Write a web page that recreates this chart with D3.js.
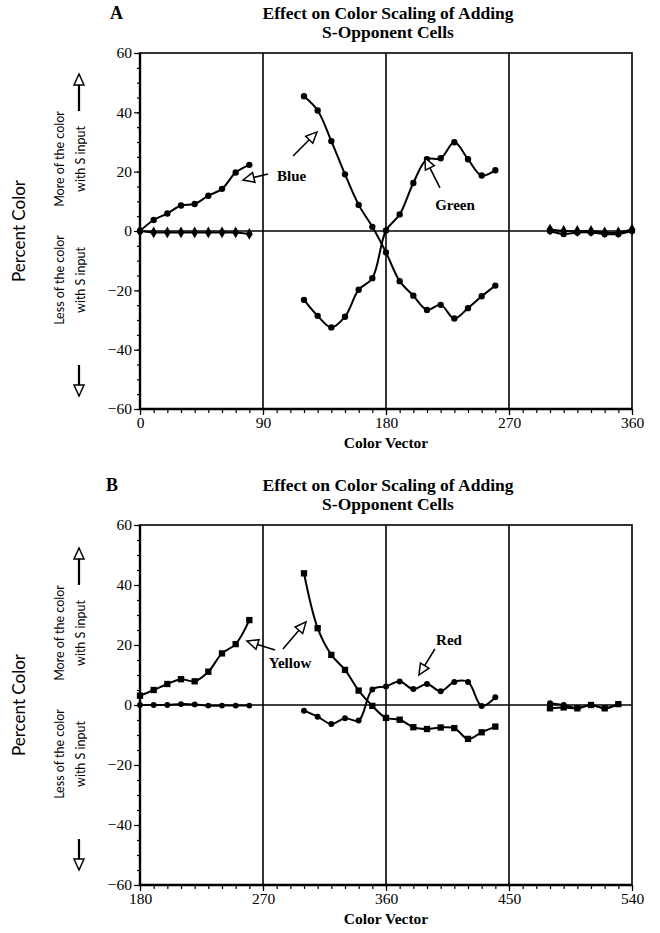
<!DOCTYPE html>
<html>
<head>
<meta charset="utf-8">
<script src="https://cdn.jsdelivr.net/npm/d3@7"></script>
<style>
  body { margin: 0; background: #fff; }
  .tick text { font-family: "Liberation Serif", "Times New Roman", serif; font-size: 15.5px; fill: #000; }
  .tick line { stroke: #000; stroke-width: 1.2; }
</style>
</head>
<body>
<svg id="chart" width="660" height="933"></svg>
<script>

// ---- panel A : Blue / Green ----
var xA_left  = [0, 10, 20, 30, 40, 50, 60, 70, 80];
var blueA_left  = [0, 3.7, 5.9, 8.6, 9.1, 11.9, 14.2, 19.7, 22.3];
var greenA_left = [0, -0.5, -0.5, -0.5, -0.5, -0.5, -0.5, -0.5, -1];

var xA_mid = [120, 130, 140, 150, 160, 170, 180, 190, 200, 210, 220, 230, 240, 250, 260];
var blueA_mid  = [45.4, 40.6, 30.3, 19.1, 8.8, 1.4, -7.2, -16.9, -21.8, -26.6, -24.9, -29.5, -26, -22, -18.4];
var greenA_mid = [-23.2, -28.6, -32.5, -28.9, -19.8, -15.9, 0.2, 5.6, 16.2, 24.2, 24.5, 29.9, 24.2, 18.7, 20.5];

var xA_right = [300, 310, 320, 330, 340, 350, 360];
var blueA_right  = [0.5, 0, 0, 0, -0.5, -0.5, 0.5];
var greenA_right = [0, -1, -0.5, -0.5, -1, -1, 0];

// ---- panel B : Yellow / Red ----
var xB_left = [180, 190, 200, 210, 220, 230, 240, 250, 260];
var yellowB_left = [3.1, 5, 7, 8.6, 7.9, 11.1, 17.2, 20.3, 28.3];
var redB_left    = [0, 0, 0, 0.3, 0.2, -0.2, -0.2, -0.2, -0.2];

var xB_mid = [300, 310, 320, 330, 340, 350, 360, 370, 380, 390, 400, 410, 420, 430, 440];
var yellowB_mid = [43.9, 25.6, 16.7, 11.7, 4.8, -0.3, -4.3, -4.9, -7.4, -8.0, -7.5, -7.7, -11.3, -9.1, -7.2];
var redB_mid    = [-1.9, -3.9, -6.3, -4.4, -5.2, 5.2, 6.2, 7.8, 5.3, 7.0, 4.6, 7.7, 7.7, -0.3, 2.6];

var xB_right = [480, 490, 500, 510, 520, 530];
var yellowB_right = [-1.1, -0.8, -1.1, 0, -1.1, 0.3];
var redB_right    = [0.6, 0, -1.1, 0, -1.1, 0.3];

var yTicks = [-60, -40, -20, 0, 20, 40, 60];
var xTicksA = [0, 90, 180, 270, 360];
var xTicksB = [180, 270, 360, 450, 540];

var titleLines = ["Effect on Color Scaling of Adding", "S-Opponent Cells"];

// labels + arrows, in data units of each panel
var notesA = [
  {text: "Blue",  x: 111, y: 18.5},
  {text: "Green", x: 230.5, y: 8.8}
];
var arrowsA = [
  {x1: 93.7, y1: 19.2, x2: 75.4, y2: 17.2},
  {x1: 112, y1: 25.3, x2: 129.5, y2: 33.4},
  {x1: 219.5, y1: 14.5, x2: 208.5, y2: 24.6}
];
var notesB = [
  {text: "Yellow", x: 289.8, y: 14},
  {text: "Red",    x: 406.1, y: 21.7}
];
var arrowsB = [
  {x1: 278.8, y1: 18.3, x2: 258.3, y2: 21.3},
  {x1: 284.6, y1: 18.7, x2: 301.5, y2: 27.7},
  {x1: 395.8, y1: 18.7, x2: 384.1, y2: 10}
];

var svg = d3.select("#chart");
var serif = "'Liberation Serif', 'Times New Roman', serif";
var sans = "Lato, 'Open Sans', sans-serif";

function zip(xs, ys){
  var out = [];
  for (var i = 0 ; i < xs.length ; i++){
    out.push({x: xs[i], y: ys[i]});
  }
  return out;
}

function drawArrow(g, x, y, a, w){
  var sx = x(a.x1), sy = y(a.y1), tx = x(a.x2), ty = y(a.y2);
  var ang = Math.atan2(ty - sy, tx - sx);
  var hl = 11, hw = 5;
  var bx = tx - hl * Math.cos(ang), by = ty - hl * Math.sin(ang);
  g.append("line")
    .attr("x1", sx).attr("y1", sy).attr("x2", bx).attr("y2", by)
    .attr("stroke", "#000").attr("stroke-width", w || 1.6);
  var px = -Math.sin(ang) * hw, py = Math.cos(ang) * hw;
  g.append("path")
    .attr("d", "M" + tx + "," + ty + "L" + (bx + px) + "," + (by + py) + "L" + (bx - px) + "," + (by - py) + "Z")
    .attr("fill", "#fff").attr("stroke", "#000").attr("stroke-width", 1.5);
}

function drawPanel(p){
  var g = svg.append("g");
  var left = 140, right = 632;

  var x = d3.scaleLinear().domain(p.xDomain).range([left, right]);
  var y = d3.scaleLinear().domain([-60, 60]).range([p.bottom, p.top]);

  // titles
  g.append("text").attr("x", p.letterX).attr("y", p.top - 34)
    .style("font-family", serif).style("font-weight", "bold").style("font-size", "18px")
    .text(p.letter);
  titleLines.forEach(function(t, i){
    g.append("text").attr("x", 388).attr("y", p.top - 34 + i * 19)
      .attr("text-anchor", "middle")
      .style("font-family", serif).style("font-weight", "bold").style("font-size", "17.5px")
      .text(t);
  });

  // minor y ticks
  g.append("g").attr("transform", "translate(" + left + ",0)")
    .call(d3.axisLeft(y).tickValues(d3.range(-60, 61, 5)).tickSize(3).tickFormat(""))
    .select(".domain").remove();
  // major y ticks
  g.append("g").attr("transform", "translate(" + left + ",0)")
    .call(d3.axisLeft(y).tickValues(yTicks).tickSize(6).tickPadding(2))
    .select(".domain").remove();

  // minor x ticks
  g.append("g").attr("transform", "translate(0," + p.bottom + ")")
    .call(d3.axisBottom(x).tickValues(d3.range(p.xDomain[0], p.xDomain[1] + 1, 10)).tickSize(4).tickFormat(""))
    .select(".domain").remove();
  // major x ticks
  g.append("g").attr("transform", "translate(0," + p.bottom + ")")
    .call(d3.axisBottom(x).tickValues(p.xTicks).tickSize(6).tickPadding(2))
    .select(".domain").remove();

  // grid lines at the major x ticks
  g.selectAll(".vgrid").data(p.xTicks.slice(1, -1)).enter().append("line")
    .attr("x1", function(d){ return x(d); }).attr("x2", function(d){ return x(d); })
    .attr("y1", p.top).attr("y2", p.bottom)
    .attr("stroke", "#000").attr("stroke-width", 1.6);
  g.append("line")
    .attr("x1", left).attr("x2", right).attr("y1", y(0)).attr("y2", y(0))
    .attr("stroke", "#000").attr("stroke-width", 1.4);

  // frame
  g.append("rect").attr("x", left).attr("y", p.top)
    .attr("width", right - left).attr("height", p.bottom - p.top)
    .attr("fill", "none").attr("stroke", "#000").attr("stroke-width", 1.6);
  g.append("line").attr("x1", left).attr("x2", left).attr("y1", p.top).attr("y2", p.bottom)
    .attr("stroke", "#000").attr("stroke-width", 2.4);
  g.append("line").attr("x1", left).attr("x2", right).attr("y1", p.bottom).attr("y2", p.bottom)
    .attr("stroke", "#000").attr("stroke-width", 2.4);

  // axis titles
  g.append("text").attr("x", (left + right) / 2).attr("y", p.bottom + 39)
    .attr("text-anchor", "middle")
    .style("font-family", serif).style("font-weight", "bold").style("font-size", "15.5px")
    .text("Color Vector");

  var yMid = y(0);
  g.append("text").attr("transform", "translate(25," + yMid + ") rotate(-90)")
    .attr("text-anchor", "middle")
    .style("font-family", sans).style("font-size", "17px")
    .text("Percent Color");

  var more = [["More of the color", 64], ["with S input", 85]];
  more.forEach(function(t){
    g.append("text").attr("transform", "translate(" + t[1] + "," + (yMid - 72) + ") rotate(-90)")
      .attr("text-anchor", "middle")
      .style("font-family", sans).style("font-size", "12.5px")
      .text(t[0]);
  });
  var less = [["Less of the color", 64], ["with S input", 85]];
  less.forEach(function(t){
    g.append("text").attr("transform", "translate(" + t[1] + "," + (yMid + 49) + ") rotate(-90)")
      .attr("text-anchor", "middle")
      .style("font-family", sans).style("font-size", "12.5px")
      .text(t[0]);
  });
  var ax = d3.scaleLinear().domain([0, 1]).range([79, 79]);
  drawArrow(g, ax, y, {x1: 0, y1: y.invert(yMid - 120), x2: 0, y2: y.invert(yMid - 157)}, 2.2);
  drawArrow(g, ax, y, {x1: 0, y1: y.invert(yMid + 134), x2: 0, y2: y.invert(yMid + 165)}, 2.2);

  // series
  var line = d3.line()
    .x(function(d){ return x(d.x); })
    .y(function(d){ return y(d.y); })
    .curve(d3.curveCatmullRom.alpha(0.5));

  p.series.forEach(function(s){
    var data = zip(s.x, s.y);
    g.append("path").datum(data)
      .attr("fill", "none").attr("stroke", "#000").attr("stroke-width", 2)
      .attr("stroke-linejoin", "round")
      .attr("d", line);
    var sym = d3.symbol().type(s.marker).size(s.size);
    g.selectAll(null).data(data).enter().append("path")
      .attr("transform", function(d){ return "translate(" + x(d.x) + "," + y(d.y) + ")"; })
      .attr("d", sym)
      .attr("fill", "#000");
  });

  // notes
  p.notes.forEach(function(n){
    g.append("text").attr("x", x(n.x)).attr("y", y(n.y))
      .attr("text-anchor", "middle").attr("dy", "0.35em")
      .style("font-family", serif).style("font-weight", "bold").style("font-size", "15px")
      .text(n.text);
  });
  p.arrows.forEach(function(a){ drawArrow(g, x, y, a); });
}

drawPanel({
  letter: "A", letterX: 110,
  top: 53, bottom: 409,
  xDomain: [0, 360], xTicks: xTicksA,
  series: [
    {x: xA_left,  y: greenA_left,  marker: d3.symbolDiamond, size: 40},
    {x: xA_left,  y: blueA_left,   marker: d3.symbolCircle,  size: 32},
    {x: xA_mid,   y: blueA_mid,    marker: d3.symbolCircle,  size: 32},
    {x: xA_mid,   y: greenA_mid,   marker: d3.symbolCircle,  size: 32},
    {x: xA_right, y: blueA_right,  marker: d3.symbolDiamond, size: 40},
    {x: xA_right, y: greenA_right, marker: d3.symbolCircle,  size: 32}
  ],
  notes: notesA, arrows: arrowsA
});

drawPanel({
  letter: "B", letterX: 106,
  top: 525, bottom: 885,
  xDomain: [180, 540], xTicks: xTicksB,
  series: [
    {x: xB_left,  y: redB_left,     marker: d3.symbolCircle, size: 26},
    {x: xB_left,  y: yellowB_left,  marker: d3.symbolSquare, size: 40},
    {x: xB_mid,   y: yellowB_mid,   marker: d3.symbolSquare, size: 40},
    {x: xB_mid,   y: redB_mid,      marker: d3.symbolCircle, size: 28},
    {x: xB_right, y: yellowB_right, marker: d3.symbolSquare, size: 40},
    {x: xB_right, y: redB_right,    marker: d3.symbolCircle, size: 28}
  ],
  notes: notesB, arrows: arrowsB
});

</script>
</body>
</html>
